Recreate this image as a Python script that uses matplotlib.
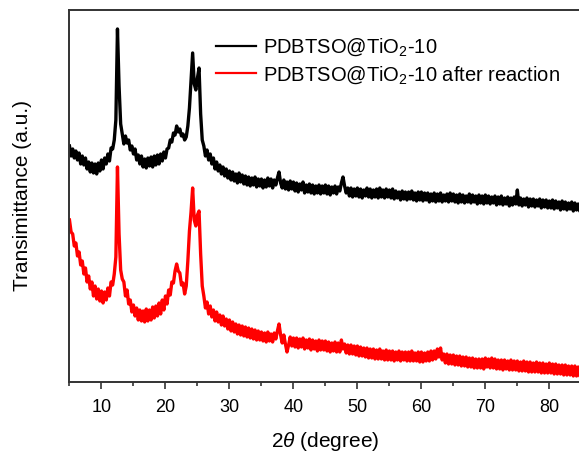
import numpy as np
import matplotlib
matplotlib.use("Agg")
import matplotlib.pyplot as plt
from matplotlib.ticker import MultipleLocator

plt.rcParams['font.family'] = ['Liberation Sans', 'DejaVu Sans']
plt.rcParams['mathtext.fontset'] = 'custom'
plt.rcParams['mathtext.rm'] = 'Liberation Sans'
plt.rcParams['mathtext.it'] = 'Liberation Sans:italic'

# scan angles, 0.25 degree step
two_theta = np.arange(5.0, 85.001, 0.25)

# intensity (arbitrary units, offset traces)
black_before = [
    236, 226, 233, 224, 231, 222, 229, 218, 226, 217, 224, 213, 220, 210, 219, 209, 218, 208, 219, 211,
    222, 213, 224, 218, 228, 221, 234, 233, 242, 262, 353, 296, 258, 248, 238, 246, 239, 242, 232, 236,
    228, 233, 222, 227, 218, 226, 215, 223, 214, 224, 216, 225, 215, 226, 217, 227, 218, 228, 221, 230,
    224, 233, 234, 242, 240, 249, 247, 256, 250, 253, 246, 248, 242, 245, 256, 274, 302, 329, 298, 292,
    304, 314, 268, 242, 236, 226, 232, 222, 228, 218, 224, 213, 220, 211, 217, 208, 215, 206, 213, 204,
    211, 202, 210, 201, 208, 199, 209, 200, 207, 198, 206, 197, 205, 196, 204, 197, 205, 195, 203, 196,
    203, 194, 202, 195, 204, 196, 203, 194, 202, 197, 204, 210, 199, 194, 202, 193, 200, 192, 201, 193,
    200, 191, 199, 190, 198, 192, 200, 189, 197, 190, 198, 189, 197, 188, 196, 189, 197, 188, 196, 189,
    197, 188, 196, 187, 195, 189, 196, 188, 195, 191, 199, 205, 196, 189, 194, 186, 194, 185, 193, 186,
    194, 185, 193, 184, 192, 186, 194, 185, 193, 184, 192, 185, 193, 184, 194, 185, 192, 184, 193, 185,
    192, 184, 193, 183, 191, 184, 190, 182, 191, 183, 190, 182, 190, 183, 191, 182, 189, 181, 190, 182,
    190, 181, 189, 182, 189, 180, 188, 181, 189, 180, 188, 181, 189, 180, 187, 181, 188, 180, 189, 181,
    188, 180, 187, 179, 188, 180, 187, 179, 186, 180, 188, 179, 187, 180, 186, 178, 187, 179, 186, 178,
    187, 179, 186, 178, 185, 179, 186, 177, 185, 178, 186, 177, 184, 178, 185, 176, 184, 177, 185, 178,
    192, 177, 184, 176, 183, 177, 184, 175, 183, 176, 183, 175, 182, 176, 183, 174, 182, 175, 182, 174,
    181, 174, 182, 173, 181, 174, 180, 172, 181, 173, 180, 172, 179, 173, 180, 171, 179, 172, 178, 171,
    177,
]

red_after = [
    162, 150, 148, 136, 139, 126, 130, 117, 121, 108, 114, 100, 106, 93, 100, 86, 96, 83, 93, 81,
    91, 79, 90, 82, 94, 86, 100, 97, 108, 125, 215, 148, 112, 103, 100, 86, 92, 78, 82, 70,
    77, 66, 74, 62, 72, 61, 71, 60, 73, 61, 72, 62, 75, 64, 76, 66, 79, 68, 82, 72,
    86, 78, 92, 87, 100, 99, 111, 118, 111, 109, 97, 99, 88, 96, 121, 151, 170, 194, 162, 156,
    167, 171, 128, 96, 86, 74, 80, 68, 76, 65, 72, 61, 70, 60, 67, 57, 66, 56, 63, 53,
    62, 51, 60, 50, 58, 48, 57, 47, 56, 46, 55, 45, 54, 44, 53, 43, 52, 42, 51, 42,
    50, 41, 49, 40, 50, 41, 48, 40, 49, 43, 51, 58, 47, 39, 47, 38, 30, 37, 45, 36,
    44, 35, 44, 34, 43, 35, 44, 33, 42, 34, 43, 32, 42, 33, 41, 31, 42, 32, 41, 32,
    41, 31, 40, 30, 39, 31, 40, 30, 39, 30, 42, 33, 38, 29, 37, 28, 37, 28, 36, 27,
    36, 26, 35, 26, 34, 25, 34, 24, 33, 24, 33, 23, 32, 23, 33, 23, 31, 22, 32, 22,
    31, 22, 31, 21, 30, 22, 31, 21, 30, 22, 30, 21, 30, 21, 31, 21, 29, 21, 30, 20,
    30, 20, 29, 21, 30, 21, 31, 22, 31, 23, 33, 25, 34, 22, 28, 19, 28, 18, 27, 18,
    27, 17, 26, 17, 26, 16, 25, 16, 25, 15, 24, 15, 24, 14, 23, 14, 23, 14, 23, 13,
    24, 15, 23, 14, 24, 14, 23, 13, 22, 13, 22, 12, 22, 13, 21, 12, 22, 12, 21, 12,
    21, 11, 20, 11, 21, 11, 20, 10, 20, 10, 19, 10, 20, 10, 19, 9, 19, 9, 18, 9,
    19, 9, 18, 8, 18, 8, 17, 8, 17, 7, 17, 7, 16, 7, 16, 6, 16, 6, 15, 6,
    14,
]

labels = [r'PDBTSO@TiO$_2$-10', r'PDBTSO@TiO$_2$-10 after reaction']

fig = plt.figure(figsize=(5.79, 4.54), dpi=100)
ax = fig.add_axes([0.12, 0.1586, 0.884, 0.8194])

ax.plot(two_theta, black_before, color='black', lw=2.4, label=labels[0])
ax.plot(two_theta, red_after, color='#ff0000', lw=2.4, label=labels[1])

ax.set_xlim(5, 85)
ax.set_ylim(0, 372)
ax.xaxis.set_major_locator(MultipleLocator(10))
ax.xaxis.set_minor_locator(MultipleLocator(5))
ax.set_yticks([])
ax.tick_params(axis='x', which='major', direction='out', length=5, width=1.2,
               labelsize=13, pad=7, colors='#333333', labelcolor='black')
ax.tick_params(axis='x', which='minor', direction='out', length=3, width=1.2,
               colors='#333333')
for s in ax.spines.values():
    s.set_color('#333333')
    s.set_linewidth(1.4)

ax.set_xlabel(r'2$\it{\theta}$ (degree)', fontsize=15, labelpad=10)
ax.set_ylabel('Transimittance (a.u.)', fontsize=15, labelpad=27)

leg = ax.legend(loc='upper left', bbox_to_anchor=(0.25, 0.977), frameon=False,
                fontsize=14.5, handlelength=2.0, handletextpad=0.35,
                labelspacing=0.28)
for h in leg.get_lines():
    h.set_linewidth(1.6)

plt.savefig('out.png', dpi=100)
plt.close()
